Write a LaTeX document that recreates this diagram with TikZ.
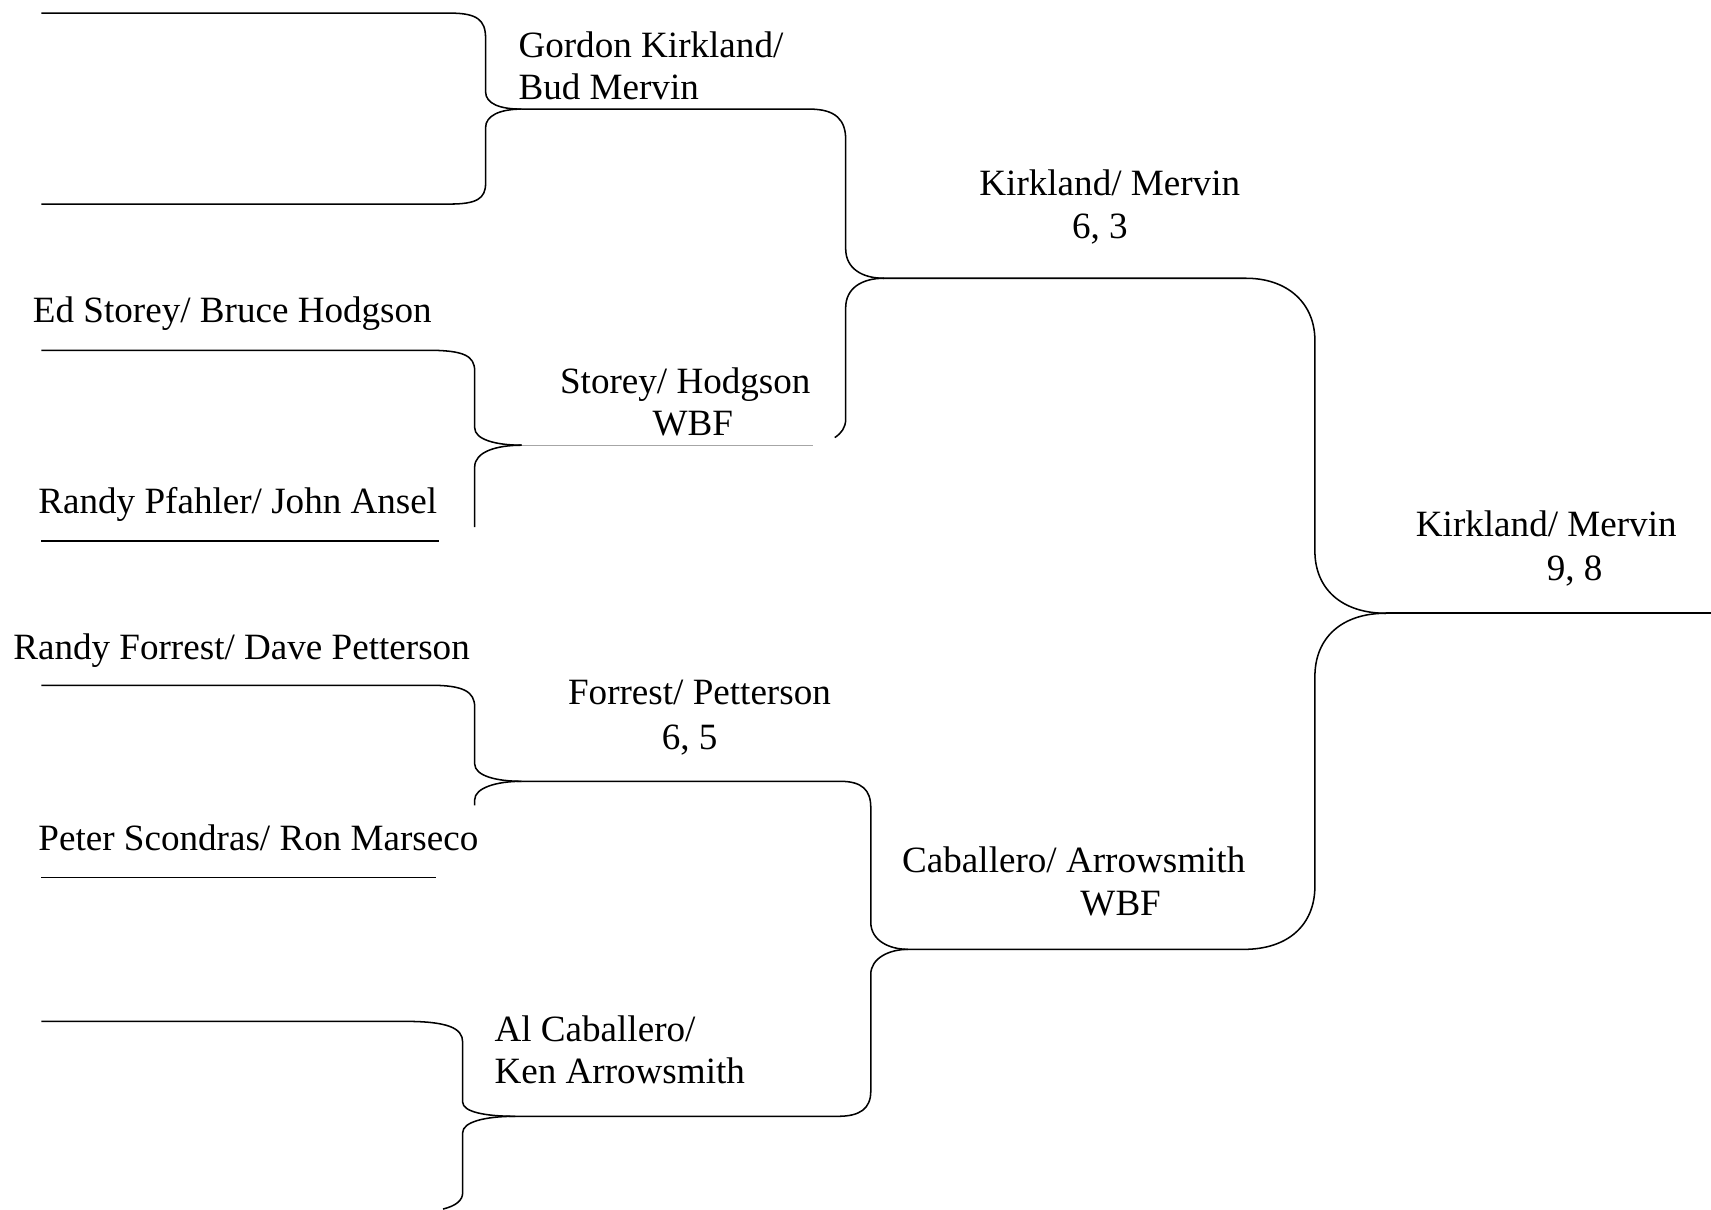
\documentclass[tikz,border=0pt]{standalone}
\usepackage{fontspec}
\setmainfont{Liberation Serif}
\begin{document}
\begin{tikzpicture}[x=1pt,y=-1pt,
  br/.style={line width=1.4pt,black},
  thin/.style={line width=0.7pt,black!35},
  lbl/.style={inner sep=0pt,anchor=base,font=\fontsize{34}{39}\selectfont},
  lbll/.style={lbl,anchor=base west}]
\fill[white] (0,0) rectangle (1568,1108);
\useasboundingbox (0,0) rectangle (1568,1108);
% tip points
\coordinate (t1) at (478,100);
\coordinate (t2) at (478,408);
\coordinate (t3) at (478,716);
\coordinate (t4) at (472,1023);
\coordinate (t5) at (810,255);
\coordinate (t6) at (832,870);
\coordinate (t7) at (1270,562);
\coordinate (fin) at (1568,562);
% Round 1, bracket A
\draw[br] (38,12) -- (412,12) .. controls (437,12) and (445,18) .. (445,35) -- (445,84) .. controls (445,95) and (458,100) .. (t1);
\draw[br] (t1) .. controls (458,100) and (445,106) .. (445,117) -- (445,168) .. controls (445,182) and (437,187) .. (412,187) -- (38,187);
% Round 1, bracket C
\draw[br] (38,321) -- (392,321) .. controls (425,321) and (435,326) .. (435,340) -- (435,392) .. controls (435,403) and (455,408) .. (t2);
\draw[br] (t2) .. controls (455,408) and (435,414) .. (435,428) -- (435,483);
\draw[thin] (t2) -- (745,408);
\draw[br] (38,496) -- (402,496);
% Round 1, bracket F
\draw[br] (38,628) -- (395,628) .. controls (425,628) and (435,634) .. (435,648) -- (435,700) .. controls (435,711) and (455,716) .. (t3);
\draw[br] (t3) .. controls (455,716) and (435,722) .. (435,733) -- (435,738);
\draw[br] (38,804) -- (400,804);
% Round 1, bracket G
\draw[br] (38,936) -- (371,936) .. controls (410,936) and (424,942) .. (424,955) -- (424,1010) .. controls (424,1019) and (445,1023) .. (t4);
\draw[br] (t4) .. controls (445,1023) and (424,1028) .. (424,1038) -- (424,1093) .. controls (424,1100) and (418,1105) .. (406,1108);
% Round 2, bracket B
\draw[br] (t1) -- (742,100) .. controls (766,100) and (775,110) .. (775,128) -- (775,228) .. controls (775,246) and (790,255) .. (t5);
\draw[br] (t5) .. controls (790,255) and (775,264) .. (775,282) -- (775,384) .. controls (775,392) and (771,397) .. (765,401);
% Round 2, bracket E
\draw[br] (t3) -- (770,716) .. controls (790,716) and (798,724) .. (798,740) -- (798,845) .. controls (798,862) and (815,870) .. (t6);
\draw[br] (t6) .. controls (815,870) and (798,878) .. (798,893) -- (798,1000) .. controls (798,1016) and (788,1023) .. (768,1023) -- (t4);
% Final, bracket D
\draw[br] (t5) -- (1142,255) .. controls (1180,255) and (1205,278) .. (1205,312) -- (1205,505) .. controls (1205,540) and (1230,562) .. (t7);
\draw[br] (t7) .. controls (1230,562) and (1205,584) .. (1205,620) -- (1205,812) .. controls (1205,848) and (1180,870) .. (1140,870) -- (t6);
\draw[br] (t7) -- (fin);
% Labels
\node[lbll] (n1) at (475,53) {Gordon Kirkland/};
\node[lbll] (n2) at (475,91) {Bud Mervin};
\node[lbl] (n3) at (1017,179) {Kirkland/ Mervin};
\node[lbl] (n4) at (1008,219) {6, 3};
\node[lbll] (n5) at (30,296) {Ed Storey/ Bruce Hodgson};
\node[lbl] (n6) at (628,361) {Storey/ Hodgson};
\node[lbl] (n7) at (635,399) {WBF};
\node[lbll] (n8) at (35,471) {Randy Pfahler/ John Ansel};
\node[lbl] (n9) at (1417,492) {Kirkland/ Mervin};
\node[lbl] (n10) at (1443,532) {9, 8};
\node[lbll] (n11) at (12,604) {Randy Forrest/ Dave Petterson};
\node[lbl] (n12) at (641,646) {Forrest/ Petterson};
\node[lbl] (n13) at (632,687) {6, 5};
\node[lbll] (n14) at (35,779) {Peter Scondras/ Ron Marseco};
\node[lbl] (n15) at (984,800) {Caballero/ Arrowsmith};
\node[lbl] (n16) at (1027,839) {WBF};
\node[lbll] (n17) at (453,954) {Al Caballero/};
\node[lbll] (n18) at (453,993) {Ken Arrowsmith};
\end{tikzpicture}
\end{document}
